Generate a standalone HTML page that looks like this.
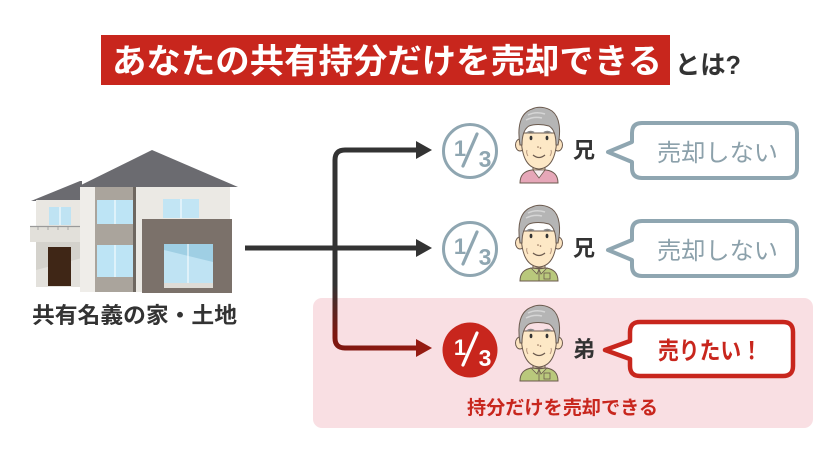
<!DOCTYPE html>
<html><head><meta charset="utf-8"><style>
html,body{margin:0;padding:0;background:#fff;}
svg{display:block;}
text{font-family:"Liberation Sans","Noto Sans CJK JP",sans-serif;}
</style></head><body>
<svg width="840" height="455" viewBox="0 0 840 455" xmlns="http://www.w3.org/2000/svg">
<defs>
  <linearGradient id="rg" x1="0" y1="285" x2="0" y2="335" gradientUnits="userSpaceOnUse">
    <stop offset="0" stop-color="#333"/>
    <stop offset="1" stop-color="#7e1710"/>
  </linearGradient>
  <linearGradient id="rh" x1="335" y1="0" x2="430" y2="0" gradientUnits="userSpaceOnUse">
    <stop offset="0" stop-color="#7e1710"/>
    <stop offset="1" stop-color="#951b12"/>
  </linearGradient>
  <g id="head">
    <ellipse cx="8" cy="40" rx="4.5" ry="6" fill="#fbe3c0" stroke="#6b5a4e" stroke-width="1"/>
    <ellipse cx="46" cy="40" rx="4.5" ry="6" fill="#fbe3c0" stroke="#6b5a4e" stroke-width="1"/>
    <path d="M9,28 C9,50 14,63 27,64 C40,63 45,50 45,28 Z" fill="#fde8c6" stroke="#6b5a4e" stroke-width="1"/>
    <path d="M8,40 C5,22 8,8 20,4 C26,1 34,2 40,6 C48,12 49,26 46,40 L44,40 C44,30 42,24 37,21 C30,19 22,19 17,21 C12,24 10,30 10,40 Z" fill="#b5b5b5" stroke="#6b5a4e" stroke-width="1"/>
    <path d="M16,10 Q24,6 33,9 M14,15 Q22,11 30,13" stroke="#d6d6d6" stroke-width="1.5" fill="none"/>
    <path d="M15,28 Q18,25.5 22,27.5 M32,27.5 Q36,25.5 39,28" stroke="#8a8a8a" stroke-width="1.8" fill="none"/>
    <ellipse cx="19" cy="33" rx="1.4" ry="2.2" fill="#333"/>
    <ellipse cx="35" cy="33" rx="1.4" ry="2.2" fill="#333"/>
    <circle cx="26" cy="42" r="0.8" fill="#8a6a55"/>
    <circle cx="28.5" cy="43" r="0.8" fill="#8a6a55"/>
    <path d="M21,50 Q27,55 33,50" stroke="#6b5a4e" stroke-width="1.2" fill="none"/>
    <path d="M15,45 Q14,48 16,51 M39,45 Q40,48 38,51" stroke="#b08f78" stroke-width="0.9" fill="none"/>
  </g>
</defs>

<!-- Title -->
<rect x="101" y="35" width="569" height="50" fill="#c8261d"/>
<text x="112" y="73" font-size="34" font-weight="bold" fill="#fff" textLength="550" lengthAdjust="spacingAndGlyphs">あなたの共有持分だけを売却できる</text>
<text x="675" y="74" font-size="26" font-weight="bold" fill="#333" textLength="66" lengthAdjust="spacingAndGlyphs">とは?</text>

<!-- House -->
<g>
  <polygon points="77,187 152,150 238,187" fill="#6b6b70"/>
  <polygon points="31,201 80,181 82,181 82,201" fill="#6b6b70"/>
  <rect x="36" y="200" width="46" height="87" fill="#e9e7e2"/>
  <rect x="49" y="207" width="22" height="18" fill="#bfe3f3"/>
  <line x1="60" y1="207" x2="60" y2="225" stroke="#fff" stroke-width="1"/>
  <rect x="30" y="226" width="52" height="16" fill="#e2e0da"/>
  <line x1="30" y1="226.5" x2="82" y2="226.5" stroke="#9a9a9a" stroke-width="1.2"/>
  <g stroke="#9a9a9a" stroke-width="0.8">
    <line x1="38" y1="226" x2="38" y2="230"/><line x1="48" y1="226" x2="48" y2="230"/>
    <line x1="58" y1="226" x2="58" y2="230"/><line x1="68" y1="226" x2="68" y2="230"/>
  </g>
  <rect x="36" y="242" width="46" height="45" fill="#d4d2cc"/>
  <polygon points="36,270 82,258 82,287 36,287" fill="#e3e1dc"/>
  <rect x="48" y="247" width="23" height="39" fill="#3f2616"/>
  <rect x="80" y="187" width="15" height="105" fill="#efede9"/>
  <rect x="95" y="187" width="40" height="105" fill="#aaa49c"/>
  <rect x="97" y="200" width="36" height="24" fill="#bde4f5"/>
  <line x1="115" y1="200" x2="115" y2="224" stroke="#fff" stroke-width="1"/>
  <rect x="97" y="245" width="36" height="32" fill="#bde4f5"/>
  <line x1="115" y1="245" x2="115" y2="277" stroke="#fff" stroke-width="1"/>
  <rect x="133" y="187" width="3" height="105" fill="#6e6760"/>
  <rect x="136" y="187" width="94" height="105" fill="#ebe9e4"/>
  <rect x="163" y="199" width="36" height="19" fill="#c2e5f4"/>
  <line x1="181" y1="199" x2="181" y2="218" stroke="#fff" stroke-width="1"/>
  <rect x="142" y="219" width="90" height="74" fill="#7b716a"/>
  <rect x="164" y="244" width="49" height="44" fill="#bfe3f3"/>
  <polygon points="164,244 213,244 213,262 164,250" fill="#9fcfe4"/>
  <line x1="188" y1="244" x2="188" y2="284" stroke="#fff" stroke-width="1"/>
  <rect x="164" y="283" width="49" height="5" fill="#dedcd7"/>
</g>
<text x="32" y="323" font-size="22" font-weight="bold" fill="#333" textLength="205" lengthAdjust="spacingAndGlyphs">共有名義の家・土地</text>

<!-- Pink box -->
<rect x="313" y="298" width="500" height="130" rx="9" fill="#f9dfe3"/>

<!-- Connectors -->
<path d="M335,248 V338 Q335,348 345,348 H418" stroke="url(#rg)" stroke-width="5" fill="none"/>
<path d="M345,348 H418" stroke="url(#rh)" stroke-width="5" fill="none"/>
<polygon points="416,339 432,348 416,357" fill="#951b12"/>
<path d="M335,250 V160 Q335,150 345,150 H418" stroke="#333" stroke-width="5" fill="none"/>
<polygon points="416,141 432,150 416,159" fill="#333"/>
<line x1="245" y1="248" x2="418" y2="248" stroke="#333" stroke-width="5"/>
<polygon points="416,239 432,248 416,257" fill="#333"/>

<!-- Row 1 -->
<circle cx="470" cy="151" r="26.5" fill="#fff" stroke="#8fa6b1" stroke-width="3"/>
<text x="460" y="156" font-size="22" font-weight="bold" fill="#8fa6b1" text-anchor="middle">1</text>
<line x1="463" y1="166" x2="477" y2="134" stroke="#8fa6b1" stroke-width="3.2" stroke-linecap="round"/>
<text x="485" y="167" font-size="23" font-weight="bold" fill="#8fa6b1" text-anchor="middle">3</text>
<g transform="translate(512,105)">
  <rect x="21" y="58" width="12" height="9" fill="#fde8c6" stroke="#6b5a4e" stroke-width="1"/>
  <path d="M8,78 C8,70 12,66 20,65 L34,65 C42,66 46,70 46,78 Z" fill="#e6a7b8" stroke="#6b5a4e" stroke-width="1"/>
  <path d="M21,65 L27,73 L33,65 Z" fill="#f7eef0" stroke="#6b5a4e" stroke-width="0.8"/>
  <use href="#head"/>
</g>
<text x="573" y="158" font-size="22" font-weight="bold" fill="#333">兄</text>
<path d="M642,123 H787 Q797,123 797,133 V168 Q797,178 787,178 H642 Q632,178 632,168 V162 L608,152 L632,142 V133 Q632,123 642,123 Z" fill="#fff" stroke="#8fa6b1" stroke-width="4" stroke-linejoin="round"/>
<text x="657" y="161" font-size="24" fill="#8ca1ab" textLength="121" lengthAdjust="spacingAndGlyphs">売却しない</text>

<!-- Row 2 -->
<circle cx="470" cy="249" r="26.5" fill="#fff" stroke="#8fa6b1" stroke-width="3"/>
<text x="460" y="254" font-size="22" font-weight="bold" fill="#8fa6b1" text-anchor="middle">1</text>
<line x1="463" y1="264" x2="477" y2="232" stroke="#8fa6b1" stroke-width="3.2" stroke-linecap="round"/>
<text x="485" y="265" font-size="23" font-weight="bold" fill="#8fa6b1" text-anchor="middle">3</text>
<g transform="translate(512,203)">
  <rect x="21" y="58" width="12" height="9" fill="#fde8c6" stroke="#6b5a4e" stroke-width="1"/>
  <path d="M8,78 C8,70 12,66 20,65 L34,65 C42,66 46,70 46,78 Z" fill="#b9c87c" stroke="#6b5a4e" stroke-width="1"/>
  <path d="M19,65 L25,71 L27,66 Z M35,65 L29,71 L27,66 Z" fill="#c9d68f" stroke="#6b5a4e" stroke-width="0.8"/>
  <line x1="27" y1="67" x2="27" y2="78" stroke="#6b5a4e" stroke-width="0.8"/>
  <rect x="32" y="70" width="6" height="6" fill="none" stroke="#6b5a4e" stroke-width="0.8"/>
  <use href="#head"/>
</g>
<text x="573" y="256" font-size="22" font-weight="bold" fill="#333">兄</text>
<path d="M642,221 H787 Q797,221 797,231 V266 Q797,276 787,276 H642 Q632,276 632,266 V260 L608,250 L632,240 V231 Q632,221 642,221 Z" fill="#fff" stroke="#8fa6b1" stroke-width="4" stroke-linejoin="round"/>
<text x="657" y="259" font-size="24" fill="#8ca1ab" textLength="121" lengthAdjust="spacingAndGlyphs">売却しない</text>

<!-- Row 3 -->
<circle cx="470" cy="350" r="27.5" fill="#c8261d"/>
<text x="460" y="355" font-size="22" font-weight="bold" fill="#fff" text-anchor="middle">1</text>
<line x1="463" y1="365" x2="477" y2="333" stroke="#fff" stroke-width="3.2" stroke-linecap="round"/>
<text x="485" y="366" font-size="23" font-weight="bold" fill="#fff" text-anchor="middle">3</text>
<g transform="translate(512,303)">
  <rect x="21" y="58" width="12" height="9" fill="#fde8c6" stroke="#6b5a4e" stroke-width="1"/>
  <path d="M8,78 C8,70 12,66 20,65 L34,65 C42,66 46,70 46,78 Z" fill="#b9c87c" stroke="#6b5a4e" stroke-width="1"/>
  <path d="M19,65 L25,71 L27,66 Z M35,65 L29,71 L27,66 Z" fill="#c9d68f" stroke="#6b5a4e" stroke-width="0.8"/>
  <line x1="27" y1="67" x2="27" y2="78" stroke="#6b5a4e" stroke-width="0.8"/>
  <rect x="32" y="70" width="6" height="6" fill="none" stroke="#6b5a4e" stroke-width="0.8"/>
  <use href="#head"/>
</g>
<text x="573" y="357" font-size="22" font-weight="bold" fill="#333">弟</text>
<path d="M640,322 H783 Q793,322 793,332 V366 Q793,376 783,376 H640 Q630,376 630,366 V359 L605,350 L630,341 V332 Q630,322 640,322 Z" fill="#fff" stroke="#c8261d" stroke-width="4.5" stroke-linejoin="round"/>
<text x="658" y="359" font-size="24" font-weight="bold" fill="#c8261d" textLength="104" lengthAdjust="spacingAndGlyphs">売りたい！</text>
<text x="467" y="414" font-size="19" font-weight="bold" fill="#c8261d" textLength="191" lengthAdjust="spacingAndGlyphs">持分だけを売却できる</text>
</svg>
</body></html>
